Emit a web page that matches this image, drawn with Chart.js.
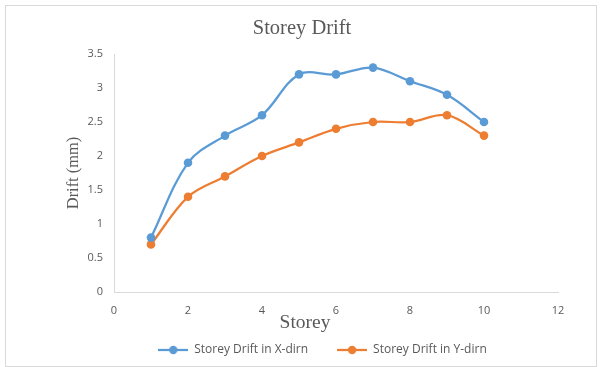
<!DOCTYPE html>
<html>
<head>
<meta charset="utf-8">
<style>
  html, body { margin: 0; padding: 0; background: #ffffff; }
  #wrap { position: relative; width: 600px; height: 367px; }
</style>
<script src="https://cdn.jsdelivr.net/npm/chart.js@4/dist/chart.umd.min.js"></script>
</head>
<body>
<div id="wrap"><canvas id="chart" width="600" height="367"></canvas></div>
<script>
// Storey numbers along the x axis
const storeys = [1, 2, 3, 4, 5, 6, 7, 8, 9, 10];
// Storey drift (mm) in each direction
const driftX = [0.8, 1.9, 2.3, 2.6, 3.2, 3.2, 3.3, 3.1, 2.9, 2.5];
const driftY = [0.7, 1.4, 1.7, 2.0, 2.2, 2.4, 2.5, 2.5, 2.6, 2.3];
// Axis tick settings
const xTicks = { min: 0, max: 12, step: 2 };
const yTicks = { min: 0, max: 3.5, step: 0.5 };

const chartTitle = 'Storey Drift';
const xTitle = 'Storey';
const yTitle = 'Drift (mm)';
const seriesNames = ['Storey Drift in X-dirn', 'Storey Drift in Y-dirn'];
const seriesColors = ['#5B9BD5', '#ED7D31'];
const textGrey = '#595959';

const toPoints = (xs, ys) => xs.map((x, i) => ({ x: x, y: ys[i] }));

// Legend symbol: short line with a round marker
function legendSymbol(color) {
  const c = document.createElement('canvas');
  c.width = 30; c.height = 10;
  const g = c.getContext('2d');
  g.strokeStyle = color; g.lineWidth = 2.25;
  g.beginPath(); g.moveTo(0, 5); g.lineTo(30, 5); g.stroke();
  g.fillStyle = color;
  g.beginPath(); g.arc(15, 5, 4.2, 0, Math.PI * 2); g.fill();
  return c;
}

const sans = '"Open Sans", Lato, sans-serif';
const serif = '"Liberation Serif", "Times New Roman", serif';
const tickFont = { family: sans, size: 11 };

// White page with a thin grey frame
const frame = {
  id: 'frame',
  beforeDraw(chart) {
    const ctx = chart.ctx;
    ctx.save();
    ctx.fillStyle = '#ffffff';
    ctx.fillRect(0, 0, chart.width, chart.height);
    ctx.strokeStyle = '#d9d9d9';
    ctx.lineWidth = 1;
    ctx.strokeRect(5.5, 5.5, 591, 361);
    ctx.restore();
  }
};

// Centre the title and legend a little right of the plot's midpoint
const blockShift = {
  id: 'blockShift',
  afterLayout(chart) {
    const t = chart.titleBlock;
    if (t) { t.left += 23; t.right += 23; }
    const l = chart.legend;
    if (l) { l.left += 43.5; l.right += 43.5; }
  }
};

// Horizontal axis title, set under the tick labels
const xAxisTitle = {
  id: 'xAxisTitle',
  afterDraw(chart) {
    const ctx = chart.ctx;
    const x = chart.scales.x;
    ctx.save();
    ctx.fillStyle = textGrey;
    ctx.font = '19.5px ' + serif;
    ctx.textAlign = 'center';
    ctx.textBaseline = 'middle';
    ctx.fillText(xTitle, chart.width / 2 + 5, x.bottom + 8);
    ctx.restore();
  }
};

new Chart(document.getElementById('chart'), {
  type: 'scatter',
  data: {
    datasets: [driftX, driftY].map((vals, i) => ({
      label: seriesNames[i],
      data: toPoints(storeys, vals),
      showLine: true,
      borderColor: seriesColors[i],
      backgroundColor: seriesColors[i],
      borderWidth: 2.25,
      tension: 0.35,
      pointRadius: 4.3,
      pointHoverRadius: 4.3,
      pointBorderWidth: 0
    }))
  },
  options: {
    responsive: false,
    animation: false,
    devicePixelRatio: 1,
    layout: { padding: { left: 0, right: 42, top: 0, bottom: 1 } },
    plugins: {
      tooltip: { enabled: false },
      title: {
        display: true,
        text: chartTitle,
        color: textGrey,
        font: { family: serif, size: 20.5, weight: 'normal' },
        padding: { top: 16.5, bottom: 12.9 }
      },
      legend: {
        position: 'bottom',
        labels: {
          usePointStyle: true,
          pointStyleWidth: 30,
          padding: 29,
          color: textGrey,
          font: { family: sans, size: 12 },
          generateLabels(chart) {
            return chart.data.datasets.map((ds, i) => ({
              text: ds.label,
              pointStyle: legendSymbol(seriesColors[i]),
              fillStyle: seriesColors[i],
              strokeStyle: seriesColors[i],
              lineWidth: 0,
              hidden: false,
              datasetIndex: i,
              fontColor: textGrey
            }));
          }
        }
      }
    },
    scales: {
      x: {
        type: 'linear',
        min: xTicks.min,
        max: xTicks.max,
        grid: { display: false, drawTicks: false },
        border: { display: true, color: '#d9d9d9', width: 1 },
        ticks: { stepSize: xTicks.step, color: textGrey, font: tickFont, padding: 12 },
        afterFit(scale) { scale.height = 23; }
      },
      y: {
        min: yTicks.min,
        max: yTicks.max,
        grid: { display: false, drawTicks: false },
        border: { display: true, color: '#d9d9d9', width: 1 },
        ticks: {
          stepSize: yTicks.step,
          color: textGrey,
          font: tickFont,
          padding: 11,
          callback: (v) => String(Math.round(v * 100) / 100)
        },
        title: {
          display: true,
          text: yTitle,
          color: textGrey,
          font: { family: serif, size: 16.4 },
          padding: { top: 63.7, bottom: 0 }
        },
        afterFit(scale) { scale.width = 114; }
      }
    }
  },
  plugins: [frame, blockShift, xAxisTitle]
});
</script>
</body>
</html>
